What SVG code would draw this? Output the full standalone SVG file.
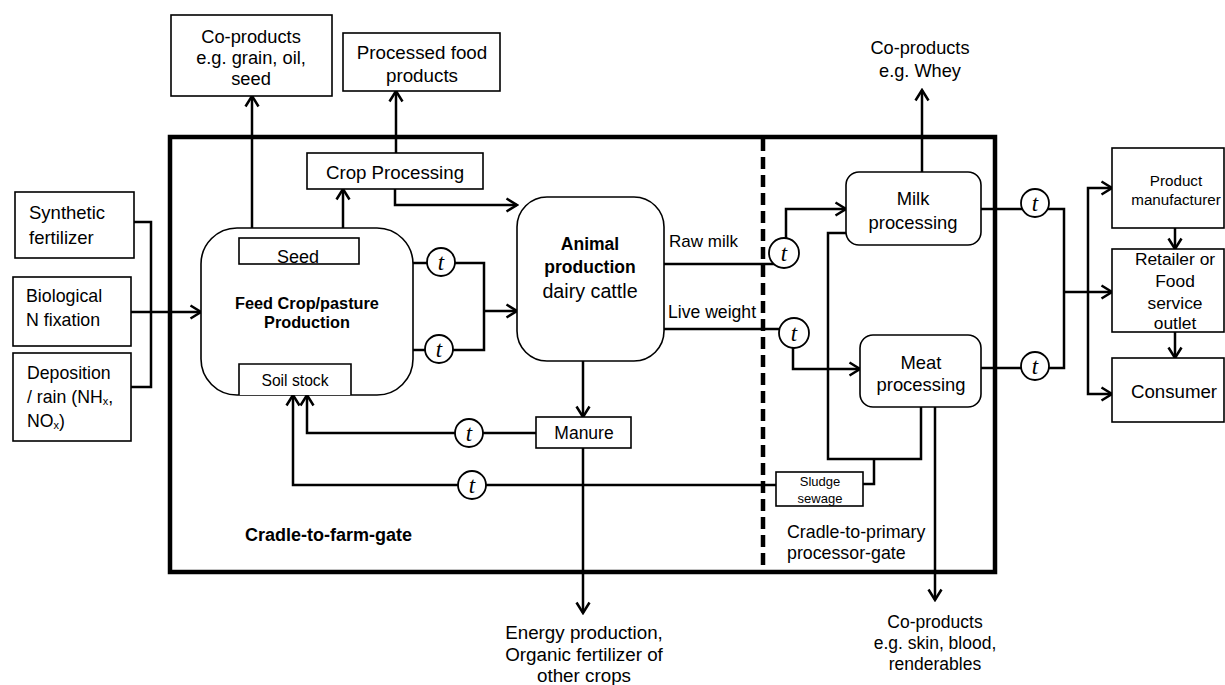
<svg xmlns="http://www.w3.org/2000/svg" width="1225" height="685" viewBox="0 0 1225 685">
  <style>
    .box { fill: #fff; stroke: #000; stroke-width: 1.6; }
    .frame { fill: none; stroke: #000; stroke-width: 4.5; }
    .dash { fill: none; stroke: #000; stroke-width: 4.5; stroke-dasharray: 12 6; }
    .wire { fill: none; stroke: #000; stroke-width: 2.5; stroke-linejoin: miter; }
    .arrow { marker-end: url(#arr); }
    .tc { fill: #fff; stroke: #000; stroke-width: 1.8; }
    text { font-family: "Liberation Sans", Arial, sans-serif; fill: #000; dominant-baseline: central; }
    .c { text-anchor: middle; }
    .b { font-weight: bold; }
    .tt { font-family: "Liberation Serif", "Times New Roman", serif; font-style: italic; font-size: 23px; text-anchor: middle; }
  </style>
  <defs>
    <marker id="arr" markerUnits="userSpaceOnUse" markerWidth="16" markerHeight="16" viewBox="0 0 16 16" refX="14" refY="8" orient="auto">
      <path d="M3.5,1.5 L14,8 L3.5,14.5" fill="none" stroke="#000" stroke-width="2.5"/>
    </marker>
  </defs>

  <rect width="1225" height="685" fill="#fff"/>

  <!-- system boundaries -->
  <g id="boundaries">
    <rect class="frame" x="170" y="137" width="825" height="435"/>
    <line class="dash" x1="763" y1="139" x2="763" y2="570"/>
  </g>

  <!-- flows -->
  <g id="connectors">
    <path class="wire" d="M134,222 H151 V387 H131"/>
    <path class="wire arrow" d="M131,312 H201"/>
    <path class="wire arrow" d="M252,228 V96"/>
    <path class="wire arrow" d="M343,228 V189"/>
    <path class="wire arrow" d="M396,153 V91"/>
    <path class="wire arrow" d="M395,189 V205 H517"/>
    <path class="wire" d="M413,263 H430"/>
    <path class="wire" d="M452,263 H484 V350 H450"/>
    <path class="wire" d="M428,350 H413"/>
    <path class="wire arrow" d="M484,311 H517"/>
    <path class="wire" d="M664,264 H776"/>
    <path class="wire arrow" d="M786,240 V209 H846"/>
    <path class="wire" d="M664,329 H782"/>
    <path class="wire arrow" d="M793,347 V369 H860"/>
    <path class="wire" d="M846,233 H828 V459 H921 V407"/>
    <path class="wire" d="M874,459 V484 H863"/>
    <path class="wire arrow" d="M776,485 H293 V395"/>
    <path class="wire arrow" d="M536,433 H307 V395"/>
    <path class="wire arrow" d="M583,361 V417"/>
    <path class="wire arrow" d="M583,448 V613"/>
    <path class="wire arrow" d="M935,407 V600"/>
    <path class="wire arrow" d="M922,172 V90"/>
    <path class="wire" d="M981,209 H1022"/>
    <path class="wire" d="M1048,209 H1064 V368 H1048"/>
    <path class="wire" d="M1022,368 H981"/>
    <path class="wire" d="M1064,292 H1088"/>
    <path class="wire arrow" d="M1088,292 V188 H1112"/>
    <path class="wire arrow" d="M1088,292 H1112"/>
    <path class="wire arrow" d="M1088,292 V394 H1112"/>
    <path class="wire arrow" d="M1175,228 V249"/>
    <path class="wire arrow" d="M1175,332 V358"/>
  </g>

  <!-- inputs -->
  <g id="synthetic-fertilizer">
    <rect class="box" x="15" y="192" width="119" height="66"/>
    <text x="29" y="212" font-size="18.5">Synthetic</text>
    <text x="29" y="237" font-size="18.5">fertilizer</text>
  </g>
  <g id="biological-n-fixation">
    <rect class="box" x="13" y="277" width="118" height="69"/>
    <text x="26" y="296" font-size="17.8">Biological</text>
    <text x="26" y="320" font-size="17.8">N  fixation</text>
  </g>
  <g id="deposition">
    <rect class="box" x="13" y="353" width="118" height="88"/>
    <text x="27" y="373" font-size="17.7">Deposition</text>
    <text x="27" y="397" font-size="17.7">/ rain (NH<tspan font-size="11" dy="4">x</tspan><tspan dy="-4">,</tspan></text>
    <text x="27" y="421" font-size="17.7">NO<tspan font-size="11" dy="4">x</tspan><tspan dy="-4">)</tspan></text>
  </g>

  <!-- outputs at top -->
  <g id="co-products-grain">
    <rect class="box" x="171" y="15" width="161" height="81"/>
    <text class="c" x="251" y="36" font-size="18.3">Co-products</text>
    <text class="c" x="251" y="57" font-size="18.3">e.g. grain,  oil,</text>
    <text class="c" x="251" y="78" font-size="18.3">seed</text>
  </g>
  <g id="processed-food">
    <rect class="box" x="343" y="33" width="157" height="58"/>
    <text class="c" x="422" y="52" font-size="18.8">Processed food</text>
    <text class="c" x="422" y="75" font-size="18.8">products</text>
  </g>
  <g id="crop-processing">
    <rect class="box" x="307" y="153" width="176" height="36"/>
    <text class="c" x="395" y="172" font-size="18.7">Crop Processing</text>
  </g>

  <!-- farm -->
  <g id="feed-crop">
    <rect class="box" x="201" y="228" width="212" height="167" rx="36" ry="36"/>
    <rect class="box" x="239" y="238" width="120" height="26"/>
    <text class="c" x="298" y="257" font-size="18">Seed</text>
    <path class="box" d="M239,395 V364 H351 V395"/>
    <text class="c" x="295" y="380" font-size="15.7">Soil stock</text>
    <text class="c b" x="307" y="303" font-size="16.3">Feed Crop/pasture</text>
    <text class="c b" x="307" y="322" font-size="16.3">Production</text>
  </g>
  <g id="animal-production">
    <rect class="box" x="517" y="197" width="147" height="164" rx="30" ry="30"/>
    <text class="c b" x="590" y="244" font-size="17.5">Animal</text>
    <text class="c b" x="590" y="267" font-size="17.5">production</text>
    <text class="c" x="590" y="291" font-size="19.7">dairy cattle</text>
  </g>
  <g id="manure">
    <rect class="box" x="536" y="417" width="95" height="31"/>
    <text class="c" x="584" y="433" font-size="17.5">Manure</text>
  </g>

  <!-- flow labels -->
  <g id="flow-labels">
    <text x="669" y="241" font-size="17">Raw milk</text>
    <text x="668" y="312" font-size="17.6">Live weight</text>
    <text class="b" x="245" y="535" font-size="18">Cradle-to-farm-gate</text>
    <text x="787" y="532" font-size="17.8">Cradle-to-primary</text>
    <text x="787" y="553" font-size="17.8">processor-gate</text>
  </g>

  <!-- processing -->
  <g id="milk-processing">
    <rect class="box" x="846" y="172" width="135" height="73" rx="13" ry="13"/>
    <text class="c" x="913" y="198" font-size="18.4">Milk</text>
    <text class="c" x="913" y="222" font-size="18.4">processing</text>
  </g>
  <g id="meat-processing">
    <rect class="box" x="860" y="335" width="121" height="72" rx="13" ry="13"/>
    <text class="c" x="921" y="362" font-size="18.4">Meat</text>
    <text class="c" x="921" y="384" font-size="18.4">processing</text>
  </g>
  <g id="sludge-sewage">
    <rect class="box" x="776" y="472" width="87" height="34"/>
    <text class="c" x="820" y="481" font-size="13">Sludge</text>
    <text class="c" x="820" y="498" font-size="13">sewage</text>
  </g>
  <g id="co-products-whey">
    <text class="c" x="920" y="48" font-size="18.2">Co-products</text>
    <text class="c" x="920" y="71" font-size="18.2">e.g. Whey</text>
  </g>
  <g id="co-products-skin">
    <text class="c" x="935" y="622" font-size="17.5">Co-products</text>
    <text class="c" x="935" y="643" font-size="17.5">e.g. skin, blood,</text>
    <text class="c" x="935" y="664" font-size="17.5">renderables</text>
  </g>
  <g id="energy-production">
    <text class="c" x="584" y="632" font-size="18.8">Energy production,</text>
    <text class="c" x="584" y="654" font-size="18.8">Organic  fertilizer of</text>
    <text class="c" x="584" y="675" font-size="18.8">other crops</text>
  </g>

  <!-- downstream chain -->
  <g id="product-manufacturer">
    <rect class="box" x="1112" y="148" width="112" height="80"/>
    <text class="c" x="1176" y="180" font-size="15.2">Product</text>
    <text class="c" x="1176" y="199" font-size="15.2">manufacturer</text>
  </g>
  <g id="retailer">
    <rect class="box" x="1112" y="249" width="112" height="83"/>
    <text class="c" x="1175" y="259" font-size="17.4">Retailer or</text>
    <text class="c" x="1175" y="281" font-size="17.4">Food</text>
    <text class="c" x="1175" y="303" font-size="17.4">service</text>
    <text class="c" x="1175" y="323" font-size="17.4">outlet</text>
  </g>
  <g id="consumer">
    <rect class="box" x="1112" y="358" width="112" height="64"/>
    <text class="c" x="1174" y="391" font-size="18.7">Consumer</text>
  </g>

  <!-- transport steps -->
  <g id="transport-1"><circle class="tc" cx="441" cy="262" r="14"/><text class="tt" x="441" y="262">t</text></g>
  <g id="transport-2"><circle class="tc" cx="439" cy="349" r="14"/><text class="tt" x="439" y="349">t</text></g>
  <g id="transport-3"><circle class="tc" cx="784" cy="253" r="15"/><text class="tt" x="784" y="253">t</text></g>
  <g id="transport-4"><circle class="tc" cx="794" cy="333" r="15"/><text class="tt" x="794" y="333">t</text></g>
  <g id="transport-5"><circle class="tc" cx="469" cy="433" r="14"/><text class="tt" x="469" y="433">t</text></g>
  <g id="transport-6"><circle class="tc" cx="472" cy="485" r="14"/><text class="tt" x="472" y="485">t</text></g>
  <g id="transport-7"><circle class="tc" cx="1035" cy="203" r="14"/><text class="tt" x="1035" y="203">t</text></g>
  <g id="transport-8"><circle class="tc" cx="1035" cy="366" r="14"/><text class="tt" x="1035" y="366">t</text></g>
</svg>
